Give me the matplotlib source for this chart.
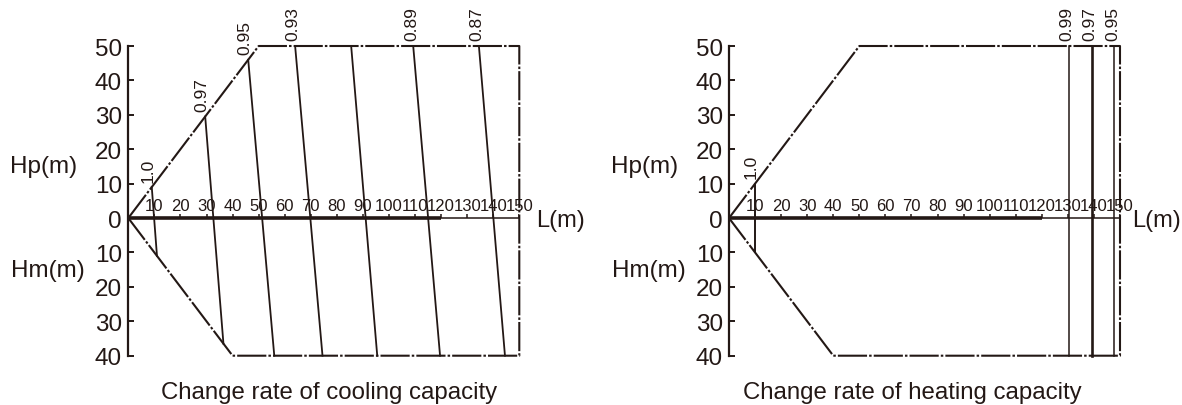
import matplotlib
matplotlib.use('Agg')
import matplotlib.pyplot as plt
from matplotlib.ticker import FuncFormatter

plt.rcParams['font.family'] = ['Liberation Sans', 'DejaVu Sans']
INK = '#231815'

# pipe length L (m) and height difference H (m), Hp > 0, Hm < 0
L_TICKS = [10, 20, 30, 40, 50, 60, 70, 80, 90, 100, 110, 120, 130, 140, 150]
H_TICKS = [-40, -30, -20, -10, 0, 10, 20, 30, 40, 50]

# limit of the allowed zone
ZONE_L = [0, 50, 150, 150, 40, 0]
ZONE_H = [0, 50, 50, -40, -40, 0]

# cooling iso-lines (top point -> bottom point)
COOL_L_TOP = [9, 29.5, 46, 64, 85.5, 109.3, 134.5]
COOL_H_TOP = [9, 29.5, 46, 50, 50, 50, 50]
COOL_L_BOT = [11, 36.5, 56, 74.5, 95.5, 119.6, 144.5]
COOL_H_BOT = [-11, -36.5, -40, -40, -40, -40, -40]
COOL_LABELS = ['1.0', '0.97', '0.95', '0.93', '', '0.89', '0.87']
COOL_LW = [1.3, 1.3, 1.3, 1.3, 1.3, 1.3, 1.3]

# heating iso-lines
HEAT_L_TOP = [10, 130.3, 139.1, 147.8]
HEAT_H_TOP = [10, 50, 50, 50]
HEAT_L_BOT = [10, 130.3, 139.1, 147.8]
HEAT_H_BOT = [-10, -40, -40, -40]
HEAT_LABELS = ['1.0', '0.99', '0.97', '0.95']
HEAT_LW = [1.4, 1.1, 1.9, 1.1]

W, H = 1182, 406
fig = plt.figure(figsize=(W / 100, H / 100), dpi=100)


def panel(x0, l_top, h_top, l_bot, h_bot, labels, lws, title, title_x, l_pos):
    ax = fig.add_axes([x0 / W, (H - 356.7) / H, 391 / W, 309.7 / H])
    ax.set_xlim(0, 150)
    ax.set_ylim(-40, 50)
    ax.patch.set_visible(False)
    for s in ['top', 'right', 'bottom']:
        ax.spines[s].set_visible(False)
    ax.spines['left'].set_color(INK)
    ax.spines['left'].set_linewidth(1.6)
    ax.set_xticks([])
    ax.set_yticks(H_TICKS)
    ax.yaxis.set_major_formatter(FuncFormatter(lambda v, p: '%d' % abs(v)))
    ax.tick_params(axis='y', direction='in', length=4, width=1.4, color=INK,
                   labelsize=17.5, labelcolor=INK, pad=4.5)

    # zone boundary, dash-dot
    ax.plot(ZONE_L, ZONE_H, color=INK, lw=1.5, dashes=(14, 1, 1.2, 1),
            clip_on=False, solid_capstyle='butt')

    # L axis
    ax.plot([0, 120], [0, 0], color=INK, lw=2.6, clip_on=False, solid_capstyle='butt')
    ax.plot([120, 150], [0, 0], color=INK, lw=1.1, clip_on=False)
    ax.vlines(L_TICKS, 0, 1.2, color=INK, lw=1.1)
    for t in L_TICKS:
        ax.text(t, 1.5, str(t), ha='center', va='bottom', fontsize=12, color=INK)
    ax.text(l_pos, -0.5, 'L(m)', ha='left', va='center', fontsize=17, color=INK)

    # iso-lines of capacity change rate
    for lt, ht, lb, hb, lab, lw in zip(l_top, h_top, l_bot, h_bot, labels, lws):
        ax.plot([lt, lb], [ht, hb], color=INK, lw=lw, clip_on=False)
        if ht < 50:
            ax.text(lt - 1.4, ht + 1.6, lab, rotation=90, ha='center', va='bottom',
                    fontsize=12.5, color=INK)
        else:
            ax.text(lt - 0.7, ht + 1.8, lab, rotation=90, ha='center', va='bottom',
                    fontsize=12.5, color=INK)

    fig.text((x0 - 118) / W, 1 - 167.5 / H, 'Hp(m)', ha='left', va='center',
             fontsize=17.5, color=INK)
    fig.text((x0 - 117) / W, 1 - 270.5 / H, 'Hm(m)', ha='left', va='center',
             fontsize=17.5, color=INK)
    fig.text(title_x / W, 1 - 393 / H, title, ha='center', va='center',
             fontsize=17.3, color=INK)
    return ax


panel(128.3, COOL_L_TOP, COOL_H_TOP, COOL_L_BOT, COOL_H_BOT, COOL_LABELS, COOL_LW,
      'Change rate of cooling capacity', 329, 156.3)
panel(729, HEAT_L_TOP, HEAT_H_TOP, HEAT_L_BOT, HEAT_H_BOT, HEAT_LABELS, HEAT_LW,
      'Change rate of heating capacity', 912, 154.6)

fig.savefig('out.png', dpi=100)
